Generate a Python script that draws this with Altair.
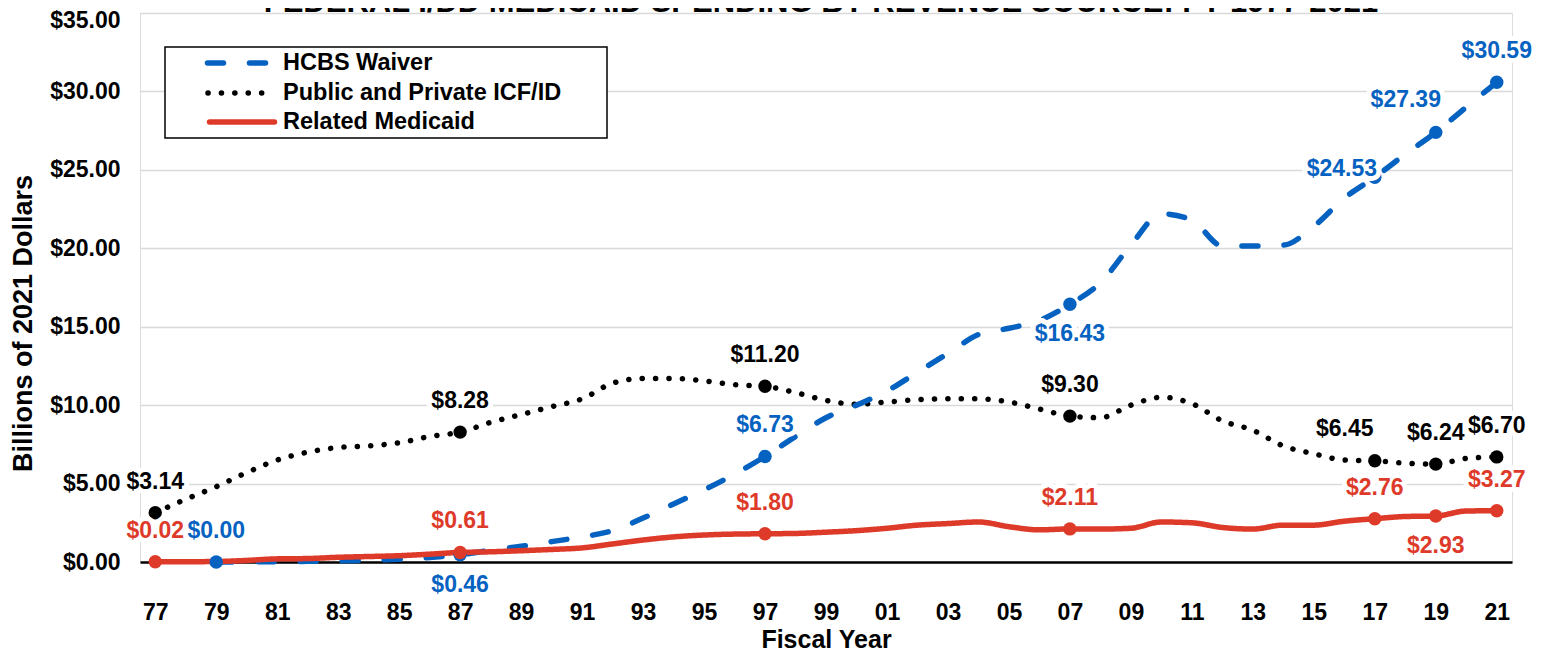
import altair as alt
import pandas as pd

title_text = "FEDERAL I/DD MEDICAID SPENDING BY REVENUE SOURCE: FY 1977-2021"
x_title = "Fiscal Year"
y_title = "Billions of 2021 Dollars"

years = list(range(1977, 2022))
series_names = ["HCBS Waiver", "Public and Private ICF/ID", "Related Medicaid"]
series_colors = ["#0562C1", "#000000", "#DE3A2A"]
series_dashes = [[16, 26], [0.1, 13.3], [1, 0]]

hcbs = [None, None, 0.00, 0.01, 0.02, 0.04, 0.07, 0.12, 0.18, 0.28,
        0.46, 0.75, 1.00, 1.30, 1.60, 2.00, 2.80, 3.70, 4.60, 5.60,
        6.73, 8.00, 9.20, 10.00, 10.90, 12.10, 13.30, 14.50, 14.90, 15.40,
        16.43, 17.80, 20.20, 22.20, 21.80, 20.15, 20.15, 20.20, 21.40, 23.20,
        24.53, 26.00, 27.39, 29.00, 30.59]
icf = [3.14, 4.00, 4.80, 5.70, 6.50, 7.00, 7.30, 7.40, 7.60, 8.00,
       8.28, 8.90, 9.40, 9.90, 10.40, 11.40, 11.70, 11.70, 11.55, 11.30,
       11.20, 10.80, 10.30, 10.05, 10.20, 10.35, 10.40, 10.40, 10.20, 9.75,
       9.30, 9.20, 10.00, 10.50, 10.10, 9.00, 8.40, 7.40, 6.90, 6.50,
       6.45, 6.30, 6.24, 6.60, 6.70]
related = [0.02, 0.02, 0.03, 0.10, 0.20, 0.22, 0.30, 0.35, 0.40, 0.50,
           0.61, 0.65, 0.72, 0.80, 0.90, 1.15, 1.40, 1.60, 1.72, 1.78,
           1.80, 1.82, 1.90, 2.00, 2.15, 2.35, 2.45, 2.55, 2.25, 2.05,
           2.11, 2.10, 2.15, 2.55, 2.50, 2.20, 2.10, 2.35, 2.35, 2.60,
           2.76, 2.90, 2.93, 3.25, 3.27]

hcbs_label_years = [1979, 1987, 1997, 2007, 2017, 2019, 2021]
hcbs_label_place = ["above", "below", "above", "below", "left", "upleft", "above"]
icf_label_years = [1977, 1987, 1997, 2007, 2017, 2019, 2021]
icf_label_place = ["above", "above", "above", "above", "upleft", "above", "above"]
related_label_years = [1977, 1987, 1997, 2007, 2017, 2019, 2021]
related_label_place = ["above", "above", "above", "above", "above", "below", "above"]

y_ticks = [0, 5, 10, 15, 20, 25, 30, 35]
x_ticks = list(range(1977, 2022, 2))

rows = []
for name, vals, lyears, lplace in [
    (series_names[1], icf, icf_label_years, icf_label_place),
    (series_names[0], hcbs, hcbs_label_years, hcbs_label_place),
    (series_names[2], related, related_label_years, related_label_place),
]:
    for yr, v in zip(years, vals):
        if v is None:
            continue
        labeled = yr in lyears
        rows.append({
            "year": yr, "series": name, "value": v,
            "labeled": labeled,
            "place": lplace[lyears.index(yr)] if labeled else "",
        })
df = pd.DataFrame(rows)

FONT = "Liberation Sans"
W, H = 1372, 549
LABEL_FS = 23

x_enc = alt.X("year:Q",
              scale=alt.Scale(domain=[1976.5, 2021.5], nice=False, zero=False),
              axis=alt.Axis(values=x_ticks, labelExpr="substring(toString(datum.value), 2)",
                            ticks=False, grid=False, domainColor="black", domainWidth=2.5,
                            labelFont=FONT, labelFontSize=23, labelFontWeight="bold",
                            labelColor="black", labelPadding=39, labelFlush=False,
                            labelOverlap=False,
                            title=x_title, titleFont=FONT, titleFontSize=25,
                            titleFontWeight="bold", titleColor="black",
                            titleY=77, titleBaseline="middle"))
y_enc = alt.Y("value:Q",
              scale=alt.Scale(domain=[0, 35], nice=False),
              axis=alt.Axis(values=y_ticks, format="$.2f", ticks=False, domain=False,
                            grid=True, gridColor="#d9d9d9", gridWidth=1.5,
                            labelFont=FONT, labelFontSize=23, labelFontWeight="bold",
                            labelColor="black", labelPadding=20,
                            labelOffset={"condition": {"test": "datum.value == 35", "value": 7},
                                         "value": 0},
                            title=y_title, titleFont=FONT, titleFontSize=27,
                            titleFontWeight="bold", titleColor="black",
                            titleX=-117, titleY=310, titleAngle=-90,
                            titleAlign="center", titleBaseline="middle"))

base = alt.Chart(df).encode(x=x_enc, y=y_enc)

lines = base.mark_line(strokeWidth=5.5, strokeCap="round", interpolate="monotone").encode(
    color=alt.Color("series:N", scale=alt.Scale(domain=series_names, range=series_colors),
                    legend=None),
    strokeDash=alt.StrokeDash("series:N",
                              scale=alt.Scale(domain=series_names, range=series_dashes),
                              legend=None),
    detail="series:N",
)

fill_enc = alt.Fill("series:N", scale=alt.Scale(domain=series_names, range=series_colors),
                    legend=None)

points = base.transform_filter("datum.labeled").mark_circle(size=180, opacity=1).encode(
    fill=fill_enc)

place_offsets = {"above": (0, -31), "below": (0, 30), "left": (-33, -8), "upleft": (-30, -32)}
label_layers = []
for place, (dx, dy) in place_offsets.items():
    sub = base.transform_filter(f"datum.place == '{place}'")
    halo = sub.mark_text(dx=dx, dy=dy, font=FONT, fontSize=LABEL_FS, fontWeight="bold",
                         fill="white", stroke="white", strokeWidth=10,
                         strokeJoin="round", baseline="middle").encode(
        text=alt.Text("value:Q", format="$.2f"))
    txt = sub.mark_text(dx=dx, dy=dy, font=FONT, fontSize=LABEL_FS, fontWeight="bold",
                        baseline="middle").encode(
        text=alt.Text("value:Q", format="$.2f"), fill=fill_enc)
    label_layers.append(halo)
    label_layers.append(txt)

# hand-drawn legend (box, line samples, labels)
one = pd.DataFrame({"k": [0]})
legend_layers = [
    alt.Chart(one).mark_rect(fill="white", stroke="black", strokeWidth=1.5).encode(
        x=alt.value(25), x2=alt.value(467), y=alt.value(34), y2=alt.value(125))
]
legend_rows_y = [50, 80, 109]
legend_x = [(67.5, 132), (68, 125), (69.5, 134.5)]
for i, name in enumerate(series_names):
    x0, x1 = legend_x[i]
    legend_layers.append(
        alt.Chart(one).mark_rule(color=series_colors[i], strokeWidth=5.5, strokeCap="round",
                                 strokeDash=series_dashes[i]).encode(
            x=alt.value(x0), x2=alt.value(x1), y=alt.value(legend_rows_y[i])))
    legend_layers.append(
        alt.Chart(pd.DataFrame({"t": [name]})).mark_text(
            font=FONT, fontSize=23.5, fontWeight="bold", align="left", baseline="middle",
            color="black").encode(text="t:N", x=alt.value(143), y=alt.value(legend_rows_y[i])))

title = alt.Chart(pd.DataFrame({"t": [title_text]})).mark_text(
    font=FONT, fontSize=31, fontWeight="bold", baseline="alphabetic", align="center",
    color="black").encode(text="t:N", x=alt.value(W / 2 - 5), y=alt.value(-1))

chart = alt.layer(lines, points, *label_layers, *legend_layers, title).properties(
    width=W, height=H,
    autosize=alt.AutoSizeParams(type="none"),
    padding={"left": 132, "top": 5, "right": 26, "bottom": 92},
).configure_view(stroke="black", strokeWidth=1.5).configure(font=FONT)

chart.save("out.html", embed_options={"renderer": "svg", "actions": False})
